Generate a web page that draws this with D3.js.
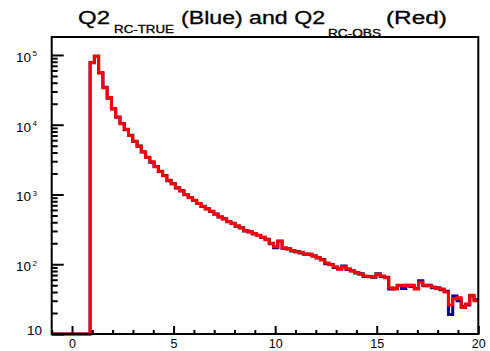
<!DOCTYPE html>
<html>
<head>
<meta charset="utf-8">
<script src="https://cdn.jsdelivr.net/npm/d3@7"></script>
<style>
  html, body { margin: 0; padding: 0; background: #fff; }
  svg { display: block; font-family: "Liberation Sans", Arial, sans-serif; }
</style>
</head>
<body>
<svg id="chart" width="490" height="351"></svg>
<script>
// histogram binning: 100 bins from -1 to 20
var xMin = -1, xMax = 20, nBins = 100;

// Q2 RC-OBS (red), bin contents
var obsCounts = [
  0, 0, 0, 0, 0, 0, 0, 0, 0, 78000,
  96000, 55000, 34000, 24500, 16800, 12900, 10300, 8600, 7000, 5800,
  4900, 4100, 3400, 2950, 2500, 2150, 1850, 1600, 1420, 1250,
  1120, 1000, 900, 830, 740, 680, 620, 575, 520, 480,
  445, 410, 385, 355, 330, 305, 290, 275, 258, 245,
  225, 200, 178, 212, 172, 165, 158, 150, 148, 138,
  140, 130, 125, 115, 104, 98, 92, 85, 92, 86,
  80, 76, 72, 68, 66, 66, 72, 68, 64, 46,
  44, 50, 50, 49, 50, 44, 55, 50, 49, 47,
  45, 44, 40, 26, 32, 33, 24, 27, 36, 30
];

// Q2 RC-TRUE (blue)
var trueCounts = [
  0, 0, 0, 0, 0, 0, 0, 0, 0, 77500,
  95500, 55500, 34500, 24000, 17000, 12800, 10400, 8500, 7050, 5750,
  4950, 4050, 3420, 2900, 2520, 2130, 1870, 1580, 1430, 1240,
  1130, 990, 905, 820, 745, 675, 625, 570, 525, 475,
  448, 405, 388, 350, 333, 300, 292, 272, 260, 242,
  228, 196, 172, 215, 170, 167, 155, 152, 145, 140,
  138, 132, 123, 117, 102, 99, 90, 86, 94, 84,
  81, 75, 73, 67, 67, 65, 73, 67, 65, 44,
  45, 49, 45, 50, 48, 45, 58, 49, 50, 46,
  46, 43, 41, 19, 35, 30, 25, 26, 35, 31
];

var xMajorTicks = [0, 5, 10, 15, 20];
var yDecades = [10, 100, 1000, 10000, 100000];
var yDecadeExponents = ["", "2", "3", "4", "5"];

var svg = d3.select('#chart');

var frame = { left: 51.7, right: 478.3, top: 37, bottom: 334 };

var x = d3.scaleLinear().domain([xMin, xMax]).range([frame.left, frame.right]);
var y = d3.scaleLog().domain([10, 1.81e5]).range([frame.bottom, frame.top]);

var binWidth = (xMax - xMin) / nBins;

function histPoints(counts) {
    var pts = [];
    for (var i = 0; i < counts.length; i++) {
        var lo = xMin + i * binWidth, hi = lo + binWidth;
        var v = counts[i] > 10 ? counts[i] : 10;
        pts.push([lo, v]);
        pts.push([hi, v]);
    }
    return pts;
}

var line = d3.line()
    .x(function(d) { return x(d[0]); })
    .y(function(d) { return y(d[1]); });

var plot = svg.append('g');

plot.append('path')
    .attr('d', line(histPoints(trueCounts)))
    .attr('fill', 'none')
    .attr('stroke', '#000099')
    .attr('stroke-width', 3);

plot.append('path')
    .attr('d', line(histPoints(obsCounts)))
    .attr('fill', 'none')
    .attr('stroke', '#ff0000')
    .attr('stroke-width', 3);

// ticks pointing into the frame, ROOT style
var xMinor = d3.range(xMin, xMax + 1).filter(function(v) { return xMajorTicks.indexOf(v) < 0; });
var xAxisMajor = svg.append('g').attr('transform', 'translate(0,' + frame.bottom + ')')
    .call(d3.axisBottom(x).tickValues(xMajorTicks).tickSize(-8).tickPadding(5).tickFormat(d3.format('d')));
var xAxisMinor = svg.append('g').attr('transform', 'translate(0,' + frame.bottom + ')')
    .call(d3.axisBottom(x).tickValues(xMinor).tickSize(-4).tickFormat(''));

var yMinor = [];
yDecades.forEach(function(d) {
    for (var k = 2; k <= 9; k++) {
        if (d * k < y.domain()[1]) yMinor.push(d * k);
    }
});
var yAxisMajor = svg.append('g').attr('transform', 'translate(' + frame.left + ',0)')
    .call(d3.axisLeft(y).tickValues(yDecades).tickSize(-12).tickFormat(''));
var yAxisMinor = svg.append('g').attr('transform', 'translate(' + frame.left + ',0)')
    .call(d3.axisLeft(y).tickValues(yMinor).tickSize(-6).tickFormat(''));

[xAxisMajor, xAxisMinor, yAxisMajor, yAxisMinor].forEach(function(g) {
    g.select('.domain').remove();
    g.selectAll('line').attr('stroke', '#000').attr('stroke-width', 2);
});
xAxisMajor.selectAll('text')
    .attr('font-size', 12.5).attr('fill', '#000')
    .attr('font-family', '"Liberation Sans", Arial, sans-serif');

// y labels 10, 10^2 ... 10^5
var yLabels = svg.append('g').attr('font-size', 13.5).attr('fill', '#000');
yDecades.forEach(function(d, i) {
    var t = yLabels.append('text');
    if (yDecadeExponents[i] === '') {
        t.attr('x', 27).attr('y', y(d) + 1).text('10');
    } else {
        t.attr('x', 16).attr('y', y(d) + 7).text('10');
        t.append('tspan').attr('dx', 1.5).attr('dy', -5.5).attr('font-size', 8).text(yDecadeExponents[i]);
    }
});

// frame
svg.append('rect')
    .attr('x', frame.left).attr('y', frame.top)
    .attr('width', frame.right - frame.left)
    .attr('height', frame.bottom - frame.top)
    .attr('fill', 'none').attr('stroke', '#000').attr('stroke-width', 2);

// title with subscripts
var titleParts = [
    { text: 'Q2', x: 78, y: 24, size: 18, w: 32 },
    { text: 'RC-TRUE', x: 114, y: 32.5, size: 10.5, w: 60 },
    { text: '(Blue) and Q2', x: 181, y: 24, size: 18, w: 144 },
    { text: 'RC-OBS', x: 328, y: 36.5, size: 10.5, w: 53 },
    { text: '(Red)', x: 386, y: 24, size: 18, w: 61 }
];
svg.append('g').selectAll('text').data(titleParts).enter().append('text')
    .attr('x', function(d) { return d.x; })
    .attr('y', function(d) { return d.y; })
    .attr('font-size', function(d) { return d.size; })
    .attr('textLength', function(d) { return d.w; })
    .attr('lengthAdjust', 'spacingAndGlyphs')
    .attr('fill', '#000')
    .attr('stroke', '#000')
    .attr('stroke-width', 0.3)
    .text(function(d) { return d.text; });
</script>
</body>
</html>
